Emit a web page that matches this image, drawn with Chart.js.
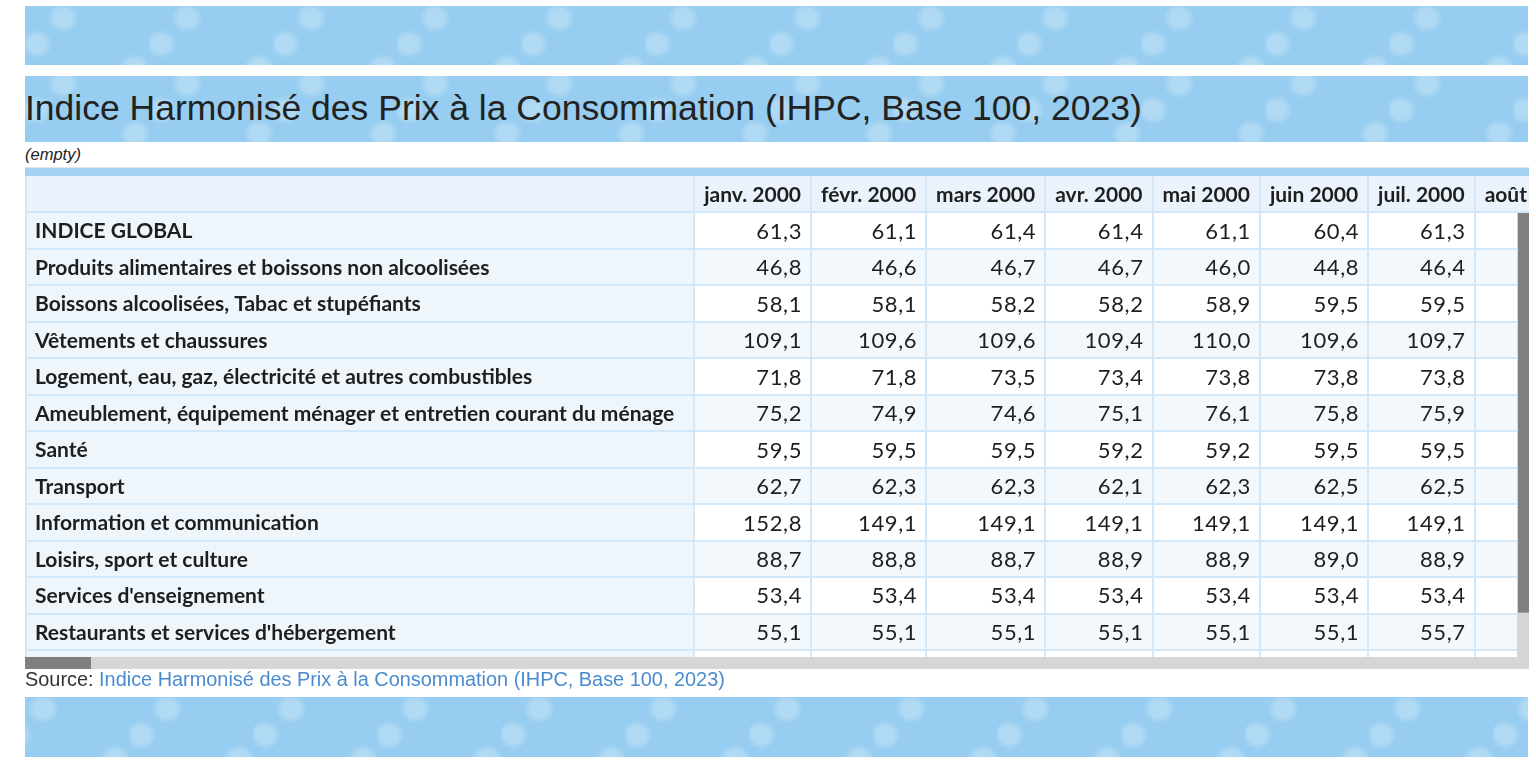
<!DOCTYPE html>
<html lang="fr">
<head>
<meta charset="utf-8">
<title>IHPC</title>
<script src="https://cdn.jsdelivr.net/npm/chart.js@4.4.1/dist/chart.umd.min.js"></script>
<style>
  body { margin: 0; width: 1536px; height: 766px; background: #fff; position: relative; overflow: hidden; font-family: "Liberation Sans", Arial, sans-serif; }
  .band {
    position: absolute; left: 25px; width: 1503px;
    background-color: #96cdf0;
    background-image:
      radial-gradient(16px 15px at 38px 12px, rgba(185,222,246,0.75) 55%, rgba(185,222,246,0) 100%),
      radial-gradient(16px 15px at 12px 38px, rgba(185,222,246,0.75) 55%, rgba(185,222,246,0) 100%),
      radial-gradient(16px 15px at 110px 62px, rgba(185,222,246,0.75) 55%, rgba(185,222,246,0) 100%);
    background-size: 124px 72px;
  }
  #band1 { top: 6px; height: 59px; }
  #band2 { top: 76px; height: 66px; background-position: 0 -4px; }
  #band3 { top: 697px; height: 60px; background-position: -20px 0; }
  #title { position: absolute; left: 25px; top: 91px; font-size: 35.5px; line-height: 35.5px; color: #222; white-space: nowrap; }
  #sub { position: absolute; left: 25px; top: 146px; font-size: 16.5px; line-height: 16.5px; font-style: italic; color: #222; }
  #wrap { position: absolute; left: 25px; top: 167px; width: 1504px; height: 502px; }
  #source { position: absolute; left: 25px; top: 670px; font-size: 19.9px; line-height: 19.9px; color: #333; white-space: nowrap; }
  #source span { color: #4a8bd0; }
</style>
</head>
<body>
<div class="band" id="band1"></div>
<div class="band" id="band2"></div>
<div id="title">Indice Harmonisé des Prix à la Consommation (IHPC, Base 100, 2023)</div>
<div id="sub">(empty)</div>
<div id="wrap"><canvas id="ihpc__Table" width="1504" height="502"></canvas></div>
<div id="source">Source: <span>Indice Harmonisé des Prix à la Consommation (IHPC, Base 100, 2023)</span></div>
<div class="band" id="band3"></div>

<script>
// Row labels (categories)
const categories = [
  'INDICE GLOBAL',
  'Produits alimentaires et boissons non alcoolisées',
  'Boissons alcoolisées, Tabac et stupéfiants',
  'Vêtements et chaussures',
  'Logement, eau, gaz, électricité et autres combustibles',
  'Ameublement, équipement ménager et entretien courant du ménage',
  'Santé',
  'Transport',
  'Information et communication',
  'Loisirs, sport et culture',
  "Services d'enseignement",
  "Restaurants et services d'hébergement"
];

// Column headers (the last one is cut off by the scroll box)
const months = ['janv. 2000', 'févr. 2000', 'mars 2000', 'avr. 2000', 'mai 2000', 'juin 2000', 'juil. 2000', 'août 2000'];

// Values per month, same order as categories
const janv2000 = [61.3, 46.8, 58.1, 109.1, 71.8, 75.2, 59.5, 62.7, 152.8, 88.7, 53.4, 55.1];
const fevr2000 = [61.1, 46.6, 58.1, 109.6, 71.8, 74.9, 59.5, 62.3, 149.1, 88.8, 53.4, 55.1];
const mars2000 = [61.4, 46.7, 58.2, 109.6, 73.5, 74.6, 59.5, 62.3, 149.1, 88.7, 53.4, 55.1];
const avr2000  = [61.4, 46.7, 58.2, 109.4, 73.4, 75.1, 59.2, 62.1, 149.1, 88.9, 53.4, 55.1];
const mai2000  = [61.1, 46.0, 58.9, 110.0, 73.8, 76.1, 59.2, 62.3, 149.1, 88.9, 53.4, 55.1];
const juin2000 = [60.4, 44.8, 59.5, 109.6, 73.8, 75.8, 59.5, 62.5, 149.1, 89.0, 53.4, 55.1];
const juil2000 = [61.3, 46.4, 59.5, 109.7, 73.8, 75.9, 59.5, 62.5, 149.1, 88.9, 53.4, 55.7];
const aout2000 = [];  // not visible in the picture

const series = [janv2000, fevr2000, mars2000, avr2000, mai2000, juin2000, juil2000, aout2000];

const FONT = '"Lato", "Liberation Sans Narrow", sans-serif';
const BOLD = 'bold 21px ' + FONT;
const REG = '22px ' + FONT;
const fmt = v => (v == null ? '' : v.toFixed(1).replace('.', ','));

// Draws the table cells on the chart, placed with the chart's x / y scales
const tablePlugin = {
  id: 'ihpcTable',
  afterDraw(chart) {
    const ctx = chart.ctx;
    const xs = chart.scales.x, ys = chart.scales.y;
    const area = chart.chartArea;
    const W = chart.width;

    // column edges from text widths (like an html table)
    ctx.save();
    ctx.font = BOLD;
    const edges = [0];
    edges.push(Math.max(...categories.map(c => ctx.measureText(c).width)) + 30);
    months.forEach(m => edges.push(edges[edges.length - 1] + ctx.measureText(m).width + 20));
    const px = edges.map(e => xs.getPixelForValue(e));

    // top strip of the box
    ctx.fillStyle = '#e4e4e4';
    ctx.fillRect(0, 0, W, 1);
    ctx.fillStyle = '#a4d3f2';
    ctx.fillRect(0, 1, W, area.top - 1);

    ctx.beginPath();
    ctx.rect(0, area.top, W, area.bottom - area.top);
    ctx.clip();

    const rowPx = r => [ys.getPixelForValue(r - 0.5), ys.getPixelForValue(r + 0.5)];
    const nRows = Math.ceil(ys.max + 0.5);

    for (let r = -1; r < nRows; r++) {
      const [top, bot] = rowPx(r);
      if (r < 0) {
        ctx.fillStyle = '#eaf3fb';
        ctx.fillRect(0, top, W, bot - top);
      } else {
        ctx.fillStyle = r % 2 === 0 ? '#ffffff' : '#f3f8fc';
        ctx.fillRect(px[1], top, W - px[1], bot - top);
        ctx.fillStyle = '#eef5fb';
        ctx.fillRect(px[0], top, px[1] - px[0], bot - top);
      }
    }

    // grid lines
    ctx.strokeStyle = '#d2e7f8';
    ctx.lineWidth = 2;
    for (let r = -1; r <= nRows; r++) {
      const yy = Math.round(rowPx(r)[1]);
      ctx.beginPath(); ctx.moveTo(0, yy); ctx.lineTo(W, yy); ctx.stroke();
    }
    px.forEach(p => {
      const xx = Math.max(1, Math.round(p));
      ctx.beginPath(); ctx.moveTo(xx, area.top); ctx.lineTo(xx, area.bottom); ctx.stroke();
    });

    // texts
    ctx.fillStyle = '#1e1e1e';
    ctx.textBaseline = 'middle';
    ctx.font = BOLD;
    ctx.textAlign = 'center';
    const [hTop, hBot] = rowPx(-1);
    months.forEach((m, i) => ctx.fillText(m, (px[i + 1] + px[i + 2]) / 2, (hTop + hBot) / 2 + 1));

    categories.forEach((c, r) => {
      const [top, bot] = rowPx(r);
      const mid = (top + bot) / 2 + 1;
      ctx.font = BOLD;
      ctx.letterSpacing = '0px';
      ctx.textAlign = 'left';
      ctx.fillText(c, px[0] + 10, mid);
      ctx.font = REG;
      ctx.letterSpacing = '0.6px';
      ctx.textAlign = 'right';
      series.forEach((s, i) => ctx.fillText(fmt(s[r]), px[i + 2] - 9, mid));
    });
    ctx.restore();

    // scroll bars
    ctx.save();
    const bodyTop = Math.round(hBot) + 1;
    ctx.fillStyle = '#d6d6d6';
    ctx.fillRect(W - 12, bodyTop, 12, area.bottom - bodyTop);
    ctx.fillRect(0, area.bottom, W, chart.height - area.bottom);
    ctx.fillStyle = '#808080';
    ctx.fillRect(W - 11, bodyTop, 11, (area.bottom - bodyTop) * 0.9);
    ctx.fillRect(0, area.bottom, 66, chart.height - area.bottom);
    ctx.restore();
  }
};

const ctx = document.getElementById('ihpc__Table').getContext('2d');
const ihpcTable = new Chart(ctx, {
  type: 'scatter',
  data: { datasets: [] },
  options: {
    responsive: false,
    animation: false,
    layout: { padding: { left: 0, right: 0, top: 9, bottom: 12 } },
    plugins: { legend: { display: false }, tooltip: { enabled: false } },
    scales: {
      x: { type: 'linear', min: 0, max: 1504, display: false },
      y: { type: 'linear', min: -1.5, max: 11.69, reverse: true, display: false }
    }
  },
  plugins: [tablePlugin]
});
</script>
</body>
</html>
